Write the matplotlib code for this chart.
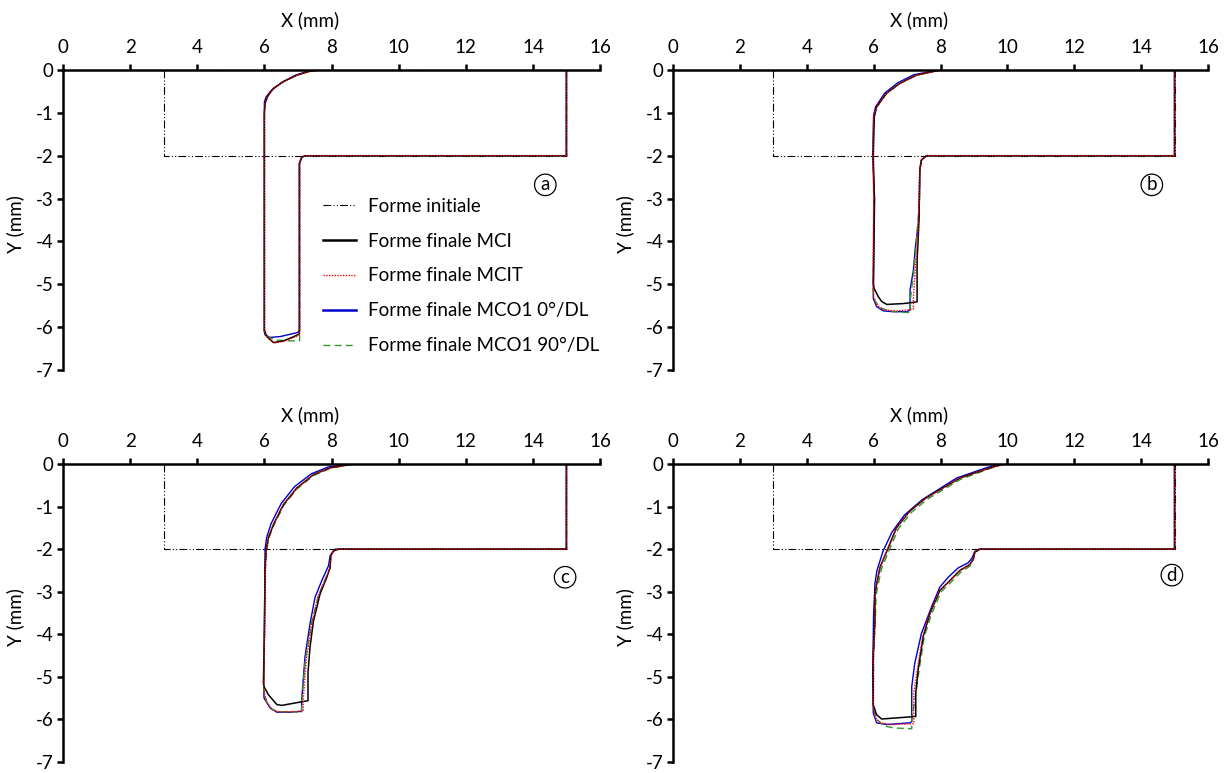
import numpy as np
from matplotlib import pyplot as plt
from matplotlib.lines import Line2D

plt.rcParams['font.family'] = ['Lato', 'DejaVu Sans']
plt.rcParams['font.size'] = 13.5
plt.rcParams['axes.unicode_minus'] = False

# Initial shape (same in every panel)
initial_x = [3, 3, 15, 15, 3]
initial_y = [0, -2, -2, 0, 0]

# Final shapes, panel (a)
a_mci = np.array([(15, -2), (15, 0), (7.6, 0), (7.3, -0.04), (6.97, -0.12), (6.57, -0.27), (6.27, -0.43),
                  (6.09, -0.62), (6.02, -0.78), (6.0, -1.0), (6.0, -6.07), (6.07, -6.22), (6.27, -6.36),
                  (6.57, -6.32), (6.82, -6.24), (7.04, -6.16), (7.04, -2.18), (7.11, -2.04), (7.21, -2.0), (15, -2)])
a_mcit = np.array([(15, -2), (15, 0), (7.6, 0), (7.3, -0.04), (6.97, -0.12), (6.57, -0.27), (6.27, -0.43),
                   (6.09, -0.62), (6.02, -0.78), (6.0, -1.0), (6.0, -6.1), (6.1, -6.25), (6.3, -6.37),
                   (6.6, -6.33), (7.0, -6.2), (7.05, -6.15), (7.05, -2.15), (7.11, -2.04), (7.21, -2.0), (15, -2)])
a_mco0 = np.array([(15, -2), (15, 0), (7.6, 0), (7.25, -0.04), (6.9, -0.13), (6.5, -0.3), (6.2, -0.48),
                   (6.05, -0.63), (6.0, -0.75), (6.0, -6.1), (6.02, -6.18), (6.17, -6.24), (6.47, -6.22),
                   (6.97, -6.13), (7.05, -6.09), (7.05, -2.18), (7.11, -2.04), (7.21, -2.0), (15, -2)])
a_mco90 = np.array([(15, -2), (15, 0), (7.6, 0), (7.3, -0.04), (6.97, -0.12), (6.57, -0.27), (6.27, -0.43),
                    (6.09, -0.62), (6.02, -0.8), (6.0, -1.0), (6.0, -6.12), (6.1, -6.22), (6.3, -6.3),
                    (6.77, -6.32), (7.05, -6.32), (7.05, -6.1), (7.05, -2.18), (7.11, -2.04), (7.21, -2.0), (15, -2)])

# panel (b)
b_mci = np.array([(15, -2), (15, 0), (8.0, 0), (7.88, -0.02), (7.28, -0.12), (6.79, -0.31), (6.39, -0.54),
                  (6.09, -0.86), (6.02, -1.09), (5.99, -2.02), (6.02, -3.03), (5.99, -4.98), (6.01, -5.09),
                  (6.14, -5.29), (6.24, -5.40), (6.39, -5.47), (6.89, -5.45), (7.30, -5.41), (7.30, -4.43),
                  (7.33, -4.0), (7.36, -3.42), (7.38, -2.33), (7.43, -2.10), (7.58, -2.0), (15, -2)])
b_mcit = np.array([(15, -2), (15, 0), (8.0, 0), (7.88, -0.02), (7.28, -0.12), (6.79, -0.31), (6.39, -0.54),
                   (6.09, -0.86), (6.0, -1.1), (5.98, -2.0), (6.0, -3.0), (5.98, -5.0), (6.0, -5.3),
                   (6.08, -5.47), (6.3, -5.6), (6.7, -5.62), (7.0, -5.6), (7.19, -5.58), (7.19, -5.3),
                   (7.25, -4.6), (7.32, -3.9), (7.37, -3.0), (7.38, -2.33), (7.43, -2.1), (7.58, -2.0), (15, -2)])
b_mco0 = np.array([(15, -2), (15, 0), (7.95, 0), (7.2, -0.11), (6.72, -0.3), (6.33, -0.54), (6.06, -0.86),
                   (6.0, -1.05), (5.97, -2.0), (6.03, -3.0), (5.99, -5.33), (6.01, -5.37), (6.09, -5.52),
                   (6.29, -5.62), (6.59, -5.64), (6.99, -5.64), (7.09, -5.6), (7.09, -5.13), (7.19, -4.67),
                   (7.24, -4.2), (7.36, -3.42), (7.38, -2.33), (7.43, -2.1), (7.58, -2.0), (15, -2)])
b_mco90 = np.array([(15, -2), (15, 0), (8.0, 0), (7.85, -0.02), (7.26, -0.12), (6.77, -0.31), (6.37, -0.55),
                    (6.08, -0.88), (6.01, -1.1), (5.98, -2.0), (6.01, -3.0), (5.99, -5.2), (6.05, -5.4),
                    (6.2, -5.55), (6.5, -5.63), (7.04, -5.66), (7.1, -5.66), (7.1, -5.35), (7.2, -4.7),
                    (7.3, -3.8), (7.37, -3.0), (7.38, -2.33), (7.43, -2.1), (7.58, -2.0), (15, -2)])

# panel (c)
c_mci = np.array([(15, -2), (15, 0), (8.65, 0), (7.96, -0.09), (7.46, -0.25), (6.97, -0.56), (6.57, -0.95),
                  (6.27, -1.42), (6.12, -1.73), (6.05, -2.04), (6.02, -2.5), (6.0, -4.06), (5.97, -5.15),
                  (5.99, -5.23), (6.12, -5.42), (6.37, -5.65), (6.52, -5.67), (6.87, -5.62), (7.3, -5.56),
                  (7.3, -4.9), (7.36, -4.3), (7.46, -3.7), (7.66, -3.05), (7.86, -2.66), (7.96, -2.43),
                  (7.98, -2.15), (8.06, -2.04), (8.21, -2.0), (15, -2)])
c_mcit = np.array([(15, -2), (15, 0), (8.65, 0), (7.96, -0.09), (7.46, -0.25), (6.97, -0.56), (6.57, -0.95),
                   (6.27, -1.42), (6.12, -1.73), (6.05, -2.04), (6.02, -2.5), (6.0, -4.06), (5.98, -5.3),
                   (6.05, -5.55), (6.2, -5.75), (6.4, -5.82), (6.8, -5.82), (7.16, -5.8), (7.16, -5.5),
                   (7.25, -4.6), (7.4, -3.8), (7.6, -3.1), (7.83, -2.68), (7.95, -2.45), (7.98, -2.15),
                   (8.06, -2.04), (8.21, -2.0), (15, -2)])
c_mco0 = np.array([(15, -2), (15, 0), (8.6, 0), (7.9, -0.07), (7.4, -0.23), (6.9, -0.53), (6.5, -0.93),
                   (6.2, -1.4), (6.07, -1.72), (6.02, -2.0), (6.0, -4.0), (5.98, -5.25), (5.99, -5.5),
                   (6.17, -5.73), (6.37, -5.83), (6.77, -5.83), (7.11, -5.81), (7.11, -5.56), (7.21, -4.53),
                   (7.36, -3.75), (7.51, -3.13), (7.71, -2.74), (7.91, -2.39), (7.96, -2.15), (8.11, -2.0), (15, -2)])
c_mco90 = np.array([(15, -2), (15, 0), (8.65, 0), (7.97, -0.1), (7.47, -0.27), (6.98, -0.58), (6.58, -0.97),
                    (6.28, -1.44), (6.13, -1.75), (6.06, -2.05), (6.03, -2.5), (6.0, -4.06), (5.98, -5.3),
                    (6.07, -5.6), (6.25, -5.78), (6.5, -5.82), (6.9, -5.82), (7.11, -5.84), (7.11, -5.6),
                    (7.22, -4.6), (7.4, -3.75), (7.62, -3.08), (7.84, -2.67), (7.96, -2.44), (7.98, -2.15),
                    (8.06, -2.04), (8.21, -2.0), (15, -2)])

# panel (d)
d_mci = np.array([(15, -2), (15, 0), (9.9, 0), (9.48, -0.09), (8.58, -0.33), (7.58, -0.79), (7.09, -1.10),
                  (6.69, -1.49), (6.44, -1.96), (6.19, -2.43), (6.09, -2.82), (6.04, -3.05), (6.04, -3.67),
                  (5.99, -4.5), (5.99, -5.66), (6.09, -5.89), (6.24, -5.99), (6.59, -5.97), (7.26, -5.93),
                  (7.26, -5.38), (7.33, -4.84), (7.48, -4.06), (7.68, -3.52), (7.98, -2.97), (8.28, -2.74),
                  (8.58, -2.50), (8.88, -2.36), (8.98, -2.23), (9.03, -2.07), (9.18, -2.0), (15, -2)])
d_mcit = np.array([(15, -2), (15, 0), (9.9, 0), (9.48, -0.09), (8.58, -0.33), (7.58, -0.79), (7.09, -1.10),
                   (6.69, -1.49), (6.44, -1.96), (6.19, -2.43), (6.09, -2.82), (6.04, -3.05), (6.04, -3.67),
                   (5.99, -4.5), (5.99, -5.7), (6.05, -5.95), (6.2, -6.08), (6.5, -6.12), (7.2, -6.1),
                   (7.2, -5.4), (7.3, -4.85), (7.46, -4.08), (7.66, -3.54), (7.96, -2.98), (8.27, -2.75),
                   (8.57, -2.51), (8.88, -2.36), (8.98, -2.23), (9.03, -2.07), (9.18, -2.0), (15, -2)])
d_mco0 = np.array([(15, -2), (15, 0), (9.85, 0), (9.4, -0.08), (8.48, -0.33), (7.45, -0.84), (6.92, -1.2),
                   (6.55, -1.6), (6.28, -2.05), (6.1, -2.5), (6.04, -2.8), (6.0, -3.5), (5.97, -5.0), (5.99, -5.85),
                   (6.09, -6.08), (6.39, -6.12), (7.09, -6.08), (7.14, -6.05), (7.14, -5.23), (7.23, -4.68),
                   (7.43, -3.98), (7.73, -3.36), (7.98, -2.89), (8.23, -2.66), (8.53, -2.44), (8.83, -2.32),
                   (8.95, -2.2), (9.02, -2.06), (9.15, -2.0), (15, -2)])
d_mco90 = np.array([(15, -2), (15, 0), (9.9, 0), (9.5, -0.1), (8.6, -0.36), (7.62, -0.82), (7.14, -1.13),
                    (6.74, -1.52), (6.49, -1.98), (6.24, -2.45), (6.13, -2.85), (6.07, -3.1), (6.05, -3.67),
                    (6.0, -4.5), (5.99, -5.7), (6.1, -6.0), (6.3, -6.15), (6.6, -6.2), (7.14, -6.22),
                    (7.14, -6.0), (7.27, -5.35), (7.36, -4.84), (7.51, -4.08), (7.72, -3.55), (8.02, -3.0),
                    (8.32, -2.77), (8.62, -2.53), (8.9, -2.39), (8.98, -2.24), (9.03, -2.07), (9.18, -2.0), (15, -2)])

panel_letters = ['a', 'b', 'c', 'd']
letter_pos = [(14.37, -2.68), (14.32, -2.68), (14.96, -2.66), (14.92, -2.61)]
panels = [(a_mci, a_mcit, a_mco0, a_mco90),
          (b_mci, b_mcit, b_mco0, b_mco90),
          (c_mci, c_mcit, c_mco0, c_mco90),
          (d_mci, d_mcit, d_mco0, d_mco90)]
labels = ['Forme initiale', 'Forme finale MCI', 'Forme finale MCIT',
          'Forme finale MCO1 0°/DL', 'Forme finale MCO1 90°/DL']

BLUE = '#0000cc'
GREEN = '#2e9a2e'
RED = '#ff0000'

fig = plt.figure(figsize=(12.32, 7.73), dpi=100)
W, H = 1232, 773
boxes = [(63, 70, 600, 370), (673, 70, 1208, 370), (63, 464, 600, 762), (673, 464, 1208, 762)]

for i, (l, t, r, b) in enumerate(boxes):
    ax = fig.add_axes([l / W, 1 - b / H, (r - l) / W, (b - t) / H])
    mci, mcit, mco0, mco90 = panels[i]
    ax.plot(initial_x, initial_y, color='black', lw=0.8, dashes=(7, 2, 1, 2, 1, 2))
    ax.plot(mco0[:, 0], mco0[:, 1], color=BLUE, lw=1.0)
    ax.plot(mco90[:, 0], mco90[:, 1], color=GREEN, lw=1.0, dashes=(5, 3))
    ax.plot(mci[:, 0], mci[:, 1], color='black', lw=1.1)
    ax.plot(mcit[:, 0], mcit[:, 1], color=RED, lw=1.0, dashes=(1, 1))

    ax.set_xlim(0, 16)
    ax.set_ylim(-7, 0)
    ax.set_xticks(np.arange(0, 17, 2))
    ax.set_yticks(np.arange(-7, 1, 1))
    ax.xaxis.tick_top()
    ax.xaxis.set_label_position('top')
    ax.spines['bottom'].set_visible(False)
    ax.spines['right'].set_visible(False)
    ax.spines['top'].set_linewidth(1.8)
    ax.spines['left'].set_linewidth(1.8)
    ax.tick_params(axis='x', direction='out', length=4, width=1.8, pad=6)
    ax.tick_params(axis='y', direction='out', length=4, width=1.8, pad=3)
    ax.set_xlabel('X (mm)')
    ax.xaxis.set_label_coords(0.46, 1.145)
    ax.set_ylabel('Y (mm)')
    ax.yaxis.set_label_coords(-0.072, 0.485)
    ax.patch.set_alpha(0)
    for sp in ['top', 'left']:
        ax.spines[sp].set_zorder(5)

    lx, ly = letter_pos[i]
    ax.text(lx, ly, panel_letters[i], ha='center', va='center', fontsize=13.5,
            bbox=dict(boxstyle='circle,pad=0.12', fc='none', ec='black', lw=0.9))

    if i == 0:
        handles = [Line2D([], [], color='black', lw=0.8, dashes=(7, 2, 1, 2, 1, 2)),
                   Line2D([], [], color='black', lw=1.8),
                   Line2D([], [], color=RED, lw=1.0, dashes=(1, 1)),
                   Line2D([], [], color=BLUE, lw=1.8),
                   Line2D([], [], color=GREEN, lw=1.0, dashes=(5, 3))]
        ax.legend(handles, labels, loc='upper left', bbox_to_anchor=(0.452, 0.63), frameon=False,
                  handlelength=1.8, handletextpad=0.6, labelspacing=0.95, fontsize=13.5)

fig.savefig('out.png', dpi=100)
